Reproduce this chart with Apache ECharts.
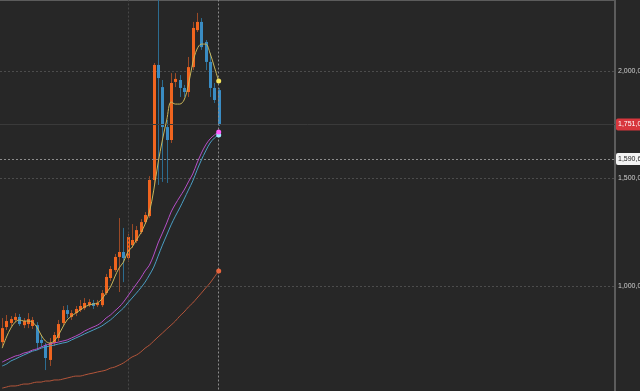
<!DOCTYPE html>
<html><head><meta charset="utf-8">
<script src="https://cdn.jsdelivr.net/npm/echarts@6/dist/echarts.min.js"></script>
<style>html,body{margin:0;padding:0;background:#272727}#c{width:640px;height:391px}</style>
</head><body><div id="c"></div>
<script>
// values in thousands
const SLOTS = 142;
const categories = Array.from({length: SLOTS}, (_, i) => 'D' + (i + 1));
const opens  = [739,809,828,842,856,818,823,814,818,749,725,656,735,758,828,888,856,874,888,897,911,921,911,911,967,1037,1074,1135,1158,1130,1190,1209,1251,1297,1325,1493,2028,1925,1739,1679,1949,1958,1921,1902,2018,2190,2228,2135,2042,1921,1911];
const closes = [804,837,846,856,823,837,846,842,735,735,665,735,772,823,888,870,874,893,907,921,925,907,921,967,1042,1079,1135,1158,1130,1228,1214,1260,1297,1330,1493,2028,1967,1739,1679,1944,1963,1921,1902,2018,2200,2228,2111,2042,1921,1865,1751];
const lows   = [721,795,814,832,814,804,804,800,702,716,609,628,721,744,818,851,842,860,879,888,902,893,902,902,958,1023,1065,972,1018,1111,1177,1200,1242,1288,1316,1470,1470,1484,1479,1665,1925,1879,1879,1879,2004,2181,2098,2004,1879,1851,1744];
const highs  = [851,865,860,874,870,851,874,856,832,772,735,758,786,842,907,911,888,907,935,944,939,935,935,981,1056,1093,1149,1316,1270,1242,1288,1279,1311,1344,1511,2037,2353,1958,1772,1990,1990,1981,1935,2065,2228,2270,2246,2144,2083,1944,1921];
const maShort = [711,763,804,832,842,837,837,832,809,772,744,735,744,772,809,842,860,874,888,902,911,916,921,939,967,995,1042,1084,1111,1158,1181,1214,1246,1288,1344,1446,1572,1679,1772,1856,1846,1846,1865,1935,2037,2102,2125,2125,2083,2018,1953];
const maMid = [646,656,665,674,679,688,693,702,707,716,725,730,735,739,744,749,758,767,777,790,800,809,818,832,851,865,884,902,925,953,981,1009,1037,1070,1097,1144,1200,1246,1293,1344,1381,1414,1446,1484,1521,1572,1618,1656,1684,1702,1716];
const maMid2 = [628,637,651,660,670,679,688,697,702,711,716,721,725,730,735,739,749,758,767,777,786,795,804,814,828,842,860,879,897,921,944,967,991,1018,1051,1088,1139,1190,1237,1284,1325,1363,1404,1446,1488,1539,1586,1628,1665,1688,1702];
const maLong = [525,530,535,535,539,544,544,549,553,553,558,558,563,563,567,572,577,581,581,586,591,595,600,604,609,618,623,632,642,656,670,679,693,711,725,744,763,781,800,818,837,860,879,902,921,944,967,991,1014,1042,1070];
const yTicks = {min: 500, max: 2330, step: 500};
const lastPrice = 1751;
const crossPrice = 1590.6;
const crossIndex = 50;
const gridVIndex = 29;

const FONT = '"Liberation Sans", Arial, sans-serif';
const fmt = v => Math.round(v * 1000).toLocaleString('en-US');
const candleData = opens.map((o, i) => [i, o, closes[i], lows[i], highs[i]]);
const last = opens.length - 1;

const UP = '#f0651f', DOWN = '#3a8cc3', UPW = '#9a4a27', DOWNW = '#2c6c90';

function renderItem(params, api) {
  const i = api.value(0);
  const o = api.value(1), c = api.value(2), l = api.value(3), h = api.value(4);
  const pO = api.coord([i, o]), pC = api.coord([i, c]);
  const pL = api.coord([i, l]), pH = api.coord([i, h]);
  const bw = Math.max(1, api.size([1, 0])[0] * 0.7);
  const up = c >= o;
  const x = Math.round(pO[0]) + 0.5;
  const top = Math.min(pO[1], pC[1]);
  return {
    type: 'group',
    children: [
      {type: 'line', shape: {x1: x, y1: pH[1], x2: x, y2: pL[1]}, style: {stroke: up ? UPW : DOWNW, lineWidth: 1}},
      {type: 'rect', shape: {x: x - bw / 2, y: top, width: bw, height: Math.max(1, Math.abs(pO[1] - pC[1]))}, style: {fill: up ? UP : DOWN}}
    ]
  };
}

function maSeries(name, data, lineColor, dotColor) {
  return {
    name, type: 'line', data, smooth: 0.35, showAllSymbol: true,
    symbol: 'circle', symbolSize: (v, p) => p.dataIndex === last ? 5 : 0,
    lineStyle: {color: lineColor, width: 1}, itemStyle: {color: dotColor},
    z: 5, silent: true
  };
}

const tagLabel = (bg, fg) => ({
  show: true, position: 'end', distance: 1, formatter: p => fmt(p.value),
  backgroundColor: bg, color: fg, fontSize: 7, fontFamily: FONT,
  padding: [2, 2, 2, 2], lineHeight: 8, borderRadius: [2, 0, 0, 2]
});

const chart = echarts.init(document.getElementById('c'), null, {renderer: 'canvas'});
chart.setOption({
  backgroundColor: '#272727',
  animation: false,
  grid: {left: 0, right: 25, top: 0, bottom: -2.5, containLabel: false, outerBoundsMode: 'none'},
  xAxis: {
    type: 'category', data: categories, position: 'top', boundaryGap: true,
    axisLine: {show: true, lineStyle: {color: '#5c5c5c', width: 2}},
    axisTick: {show: false}, axisLabel: {show: false}, splitLine: {show: false}
  },
  yAxis: {
    type: 'value', position: 'right', min: yTicks.min, max: yTicks.max, interval: yTicks.step, scale: true,
    axisLine: {show: true, lineStyle: {color: '#5c5c5c', width: 2}},
    axisTick: {show: false},
    axisLabel: {color: '#cfcfcf', fontSize: 7, margin: 3, showMaxLabel: false, showMinLabel: false,
      fontFamily: FONT, formatter: v => fmt(v)},
    splitLine: {show: true, lineStyle: {color: '#4c4c4c', type: [2, 2]}}
  },
  series: [
    {
      type: 'custom', renderItem, data: candleData, clip: true,
      encode: {x: 0, y: [1, 2, 3, 4]}, z: 2, silent: true,
      markLine: {
        silent: true, symbol: ['none', 'none'], animation: false,
        data: [
          {xAxis: categories[gridVIndex], lineStyle: {color: '#474747', type: [2, 2], width: 1}, label: {show: false}},
          {yAxis: lastPrice, lineStyle: {color: '#3a3a3a', type: 'solid', width: 1}, label: tagLabel('#d8363d', '#ffffff')},
          {yAxis: crossPrice, lineStyle: {color: '#8c8c8c', type: [2, 2], width: 1}, label: tagLabel('#f2f2f2', '#222222')},
          {xAxis: categories[crossIndex], lineStyle: {color: '#8c8c8c', type: [2, 2], width: 1}, label: {show: false}}
        ]
      }
    },
    maSeries('MA long', maLong, '#b4553a', '#e8643c'),
    maSeries('MA mid2', maMid2, '#4a9ec4', '#9fe6ff'),
    maSeries('MA mid', maMid, '#b64fc8', '#ff5cff'),
    maSeries('MA short', maShort, '#c9b65a', '#f5e35a')
  ]
});
</script>
</body></html>
